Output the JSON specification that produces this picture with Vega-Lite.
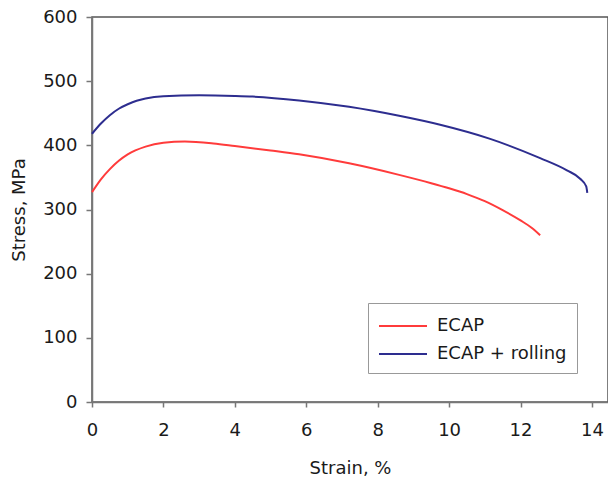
{
  "$schema": "https://vega.github.io/schema/vega-lite/v6.json",
  "autosize": "none",
  "width": 516,
  "height": 385,
  "padding": {"left": 92, "top": 17, "right": 0, "bottom": 77},
  "background": "white",
  "config": {
    "view": {"stroke": "#555", "strokeWidth": 1.5},
    "font": "DejaVu Sans",
    "axis": {
      "grid": false,
      "domainColor": "#777",
      "domainWidth": 1.5,
      "tickColor": "#777",
      "tickWidth": 1.5,
      "labelFont": "DejaVu Sans",
      "labelFontSize": 18,
      "labelColor": "#1a1a1a",
      "labelFlush": false,
      "titleFont": "DejaVu Sans",
      "titleFontSize": 18,
      "titleFontWeight": "normal",
      "titleColor": "#1a1a1a"
    },
    "legend": {
      "labelFont": "DejaVu Sans",
      "labelFontSize": 18,
      "labelColor": "#1a1a1a"
    }
  },
  "data": {
    "values": [
      {"series": "ECAP", "strain": 0.0, "stress": 327},
      {"series": "ECAP", "strain": 0.25, "stress": 347},
      {"series": "ECAP", "strain": 0.5, "stress": 363},
      {"series": "ECAP", "strain": 0.75, "stress": 376},
      {"series": "ECAP", "strain": 1.0, "stress": 386},
      {"series": "ECAP", "strain": 1.5, "stress": 398},
      {"series": "ECAP", "strain": 2.0, "stress": 404},
      {"series": "ECAP", "strain": 2.6, "stress": 406},
      {"series": "ECAP", "strain": 3.4, "stress": 403},
      {"series": "ECAP", "strain": 4.0, "stress": 399},
      {"series": "ECAP", "strain": 5.0, "stress": 392},
      {"series": "ECAP", "strain": 5.8, "stress": 386},
      {"series": "ECAP", "strain": 7.2, "stress": 372},
      {"series": "ECAP", "strain": 8.6, "stress": 354},
      {"series": "ECAP", "strain": 9.5, "stress": 341},
      {"series": "ECAP", "strain": 10.0, "stress": 333},
      {"series": "ECAP", "strain": 10.5, "stress": 324},
      {"series": "ECAP", "strain": 11.0, "stress": 313},
      {"series": "ECAP", "strain": 11.5, "stress": 299},
      {"series": "ECAP", "strain": 12.0, "stress": 283},
      {"series": "ECAP", "strain": 12.3, "stress": 272},
      {"series": "ECAP", "strain": 12.55, "stress": 260},
      {"series": "ECAP + rolling", "strain": 0.0, "stress": 418},
      {"series": "ECAP + rolling", "strain": 0.25, "stress": 434},
      {"series": "ECAP + rolling", "strain": 0.5, "stress": 447},
      {"series": "ECAP + rolling", "strain": 0.75, "stress": 457},
      {"series": "ECAP + rolling", "strain": 1.0, "stress": 464},
      {"series": "ECAP + rolling", "strain": 1.25, "stress": 469.5},
      {"series": "ECAP + rolling", "strain": 1.5, "stress": 473},
      {"series": "ECAP + rolling", "strain": 2.0, "stress": 476.5},
      {"series": "ECAP + rolling", "strain": 3.0, "stress": 478},
      {"series": "ECAP + rolling", "strain": 4.0, "stress": 477},
      {"series": "ECAP + rolling", "strain": 4.5, "stress": 476},
      {"series": "ECAP + rolling", "strain": 5.8, "stress": 470},
      {"series": "ECAP + rolling", "strain": 7.2, "stress": 460},
      {"series": "ECAP + rolling", "strain": 8.6, "stress": 446},
      {"series": "ECAP + rolling", "strain": 9.75, "stress": 432},
      {"series": "ECAP + rolling", "strain": 11.15, "stress": 410},
      {"series": "ECAP + rolling", "strain": 12.55, "stress": 380},
      {"series": "ECAP + rolling", "strain": 13.3, "stress": 361},
      {"series": "ECAP + rolling", "strain": 13.67, "stress": 348},
      {"series": "ECAP + rolling", "strain": 13.84, "stress": 336},
      {"series": "ECAP + rolling", "strain": 13.87, "stress": 326}
    ]
  },
  "mark": {"type": "line", "interpolate": "monotone", "strokeWidth": 2},
  "encoding": {
    "x": {
      "field": "strain",
      "type": "quantitative",
      "scale": {"domain": [0, 14.45], "nice": false},
      "axis": {
        "title": "Strain, %",
        "values": [0, 2, 4, 6, 8, 10, 12, 14],
        "tickSize": 5,
        "labelPadding": 14,
        "titlePadding": 20
      }
    },
    "y": {
      "field": "stress",
      "type": "quantitative",
      "scale": {"domain": [0, 600], "nice": false},
      "axis": {
        "title": "Stress, MPa",
        "values": [0, 100, 200, 300, 400, 500, 600],
        "tickSize": 6,
        "labelPadding": 9,
        "titlePadding": 14
      }
    },
    "color": {
      "field": "series",
      "type": "nominal",
      "scale": {"domain": ["ECAP", "ECAP + rolling"], "range": ["#ff3b3b", "#2d2d8f"]},
      "legend": {
        "title": null,
        "orient": "none",
        "legendX": 276,
        "legendY": 286,
        "symbolType": "M-1,0H3",
        "symbolSize": 576,
        "symbolStrokeWidth": 2,
        "labelOffset": 33,
        "rowPadding": 6,
        "padding": 10,
        "strokeColor": "#999",
        "fillColor": "white"
      }
    }
  }
}
